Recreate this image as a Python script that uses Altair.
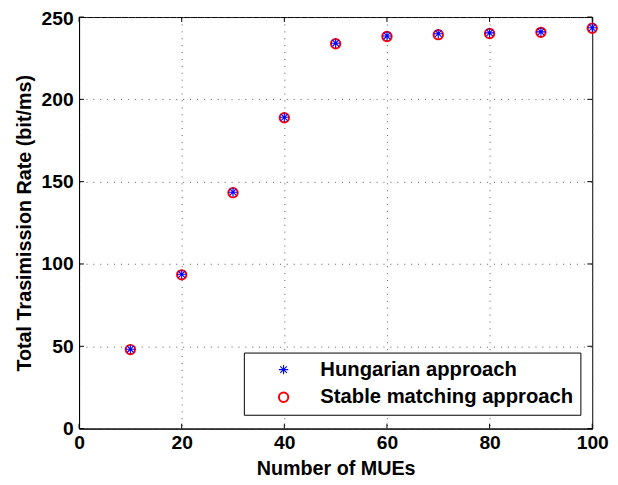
import altair as alt
import pandas as pd

mues = [10, 20, 30, 40, 50, 60, 70, 80, 90, 100]
hungarian = [48.2, 93.7, 143.6, 189.1, 234.1, 238.5, 239.9, 240.4, 241.0, 243.5]
stable = [48.0, 93.4, 143.3, 188.8, 233.8, 238.2, 239.3, 240.0, 240.7, 243.2]
series_names = ["Hungarian approach", "Stable matching approach"]
x_ticks = [0, 20, 40, 60, 80, 100]
y_ticks = [0, 50, 100, 150, 200, 250]

STAR = "M-1,0L1,0M0,-1L0,1M-0.7,-0.7L0.7,0.7M-0.7,0.7L0.7,-0.7"
FONT = "Liberation Sans"

rows = []
for xv, yv in zip(mues, stable):
    rows.append({"x": xv, "y": yv, "series": series_names[1]})
for xv, yv in zip(mues, hungarian):
    rows.append({"x": xv, "y": yv, "series": series_names[0]})
df = pd.DataFrame(rows)

W, H = 520, 417
xs = alt.Scale(domain=[0, 100], nice=False, zero=False)
ys = alt.Scale(domain=[0, 250], nice=False, zero=False)

common_axis = dict(
    grid=True, gridDash=[1, 6], gridColor="#555555", gridWidth=1,
    tickSize=0, domainColor="black", domainWidth=1,
    labelFont=FONT, labelFontSize=19.5, labelFontWeight="bold", labelColor="black",
    titleFont=FONT, titleFontSize=20, titleFontWeight="bold", titleColor="black",
    labelFlush=False, labelOverlap=False,
)
xaxis = alt.Axis(values=x_ticks, title="Number of MUEs", titlePadding=7, labelPadding=5, **common_axis)
yaxis = alt.Axis(
    values=y_ticks, title="Total Trasimission Rate (bit/ms)", titlePadding=7, labelPadding=6,
    labelOffset={"condition": {"test": "datum.value == 250", "value": 2}, "value": 0},
    **common_axis,
)

legend = alt.Legend(
    title=None, orient="none", legendX=167, legendY=340,
    strokeColor="black", fillColor="white", padding=7, cornerRadius=0,
    symbolOffset=23, labelOffset=27, rowPadding=7, labelLimit=0,
    labelFont=FONT, labelFontSize=20.5, labelFontWeight="bold", labelColor="black",
    symbolSize=90, symbolStrokeWidth=1.5,
)

points = alt.Chart(df).mark_point(filled=False, opacity=1, size=90).encode(
    x=alt.X("x:Q", scale=xs, axis=xaxis),
    y=alt.Y("y:Q", scale=ys, axis=yaxis),
    color=alt.Color("series:N", scale=alt.Scale(domain=series_names, range=["#0000ff", "#ff0000"]), legend=legend),
    shape=alt.Shape("series:N", scale=alt.Scale(domain=series_names, range=[STAR, "circle"]), legend=legend),
    strokeWidth=alt.StrokeWidth("series:N", scale=alt.Scale(domain=series_names, range=[1.1, 2]), legend=legend),
)

xt = pd.DataFrame({"x": x_ticks})
yt = pd.DataFrame({"y": y_ticks})
tick_col = "black"
bottom = alt.Chart(xt).mark_rule(color=tick_col).encode(
    x=alt.X("x:Q", scale=xs, axis=xaxis), y=alt.value(H), y2=alt.value(H - 5))
top = alt.Chart(xt).mark_rule(color=tick_col).encode(
    x=alt.X("x:Q", scale=xs, axis=xaxis), y=alt.value(0), y2=alt.value(5))
left = alt.Chart(yt).mark_rule(color=tick_col).encode(
    y=alt.Y("y:Q", scale=ys, axis=yaxis), x=alt.value(0), x2=alt.value(5))
right = alt.Chart(yt).mark_rule(color=tick_col).encode(
    y=alt.Y("y:Q", scale=ys, axis=yaxis), x=alt.value(W), x2=alt.value(W - 5))

chart = alt.layer(bottom, top, left, right, points).properties(
    width=W, height=H,
    padding={"left": 72, "top": 6, "right": 18, "bottom": 53},
    autosize=alt.AutoSizeParams(type="none"),
    background="white",
).configure_view(stroke="black", strokeWidth=1)

chart.save("out.html", embed_options={"renderer": "svg", "actions": False})
